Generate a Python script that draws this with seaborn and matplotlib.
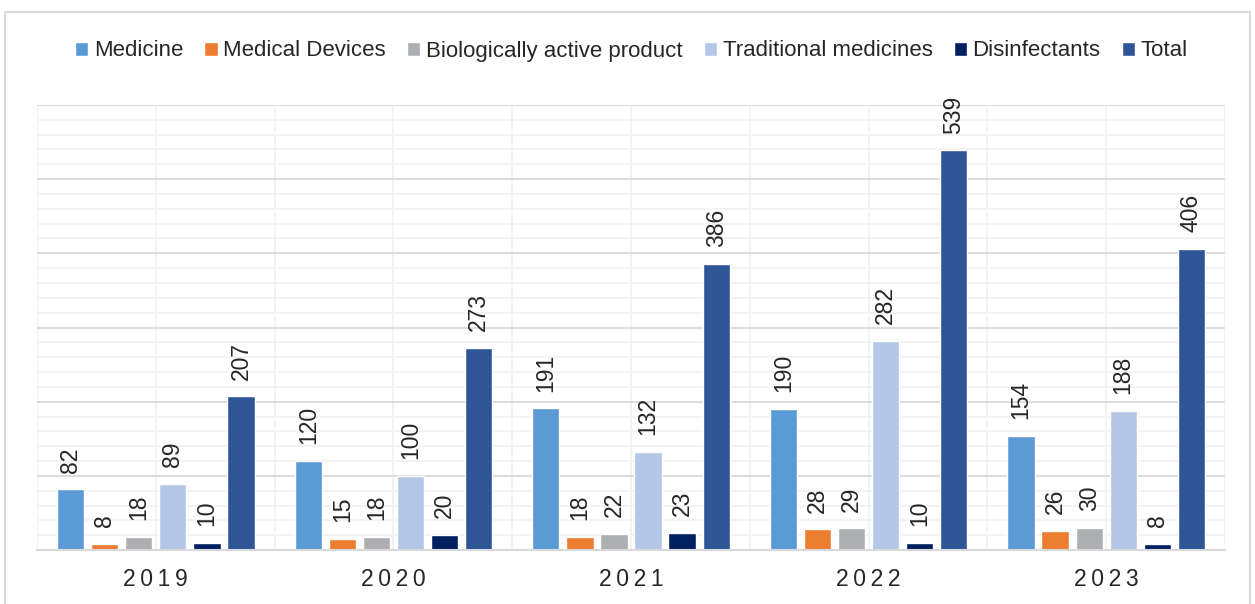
import matplotlib
matplotlib.use("Agg")
import matplotlib.pyplot as plt
import seaborn as sns
import pandas as pd
from matplotlib.patches import Rectangle
from matplotlib.ticker import MultipleLocator

years = ["2019", "2020", "2021", "2022", "2023"]
series_names = ["Medicine", "Medical Devices", "Biologically active product",
                "Traditional medicines", "Disinfectants", "Total"]
medicine = [82, 120, 191, 190, 154]
medical_devices = [8, 15, 18, 28, 26]
bio_active = [18, 18, 22, 29, 30]
traditional = [89, 100, 132, 282, 188]
disinfectants = [10, 20, 23, 10, 8]
total = [207, 273, 386, 539, 406]
colors = ["#5B9BD5", "#ED7D31", "#AEAFB2", "#B4C7E7", "#002060", "#2F5597"]

all_values = [medicine, medical_devices, bio_active, traditional, disinfectants, total]
rows = []
for name, vals in zip(series_names, all_values):
    for y, v in zip(years, vals):
        rows.append({"Year": y, "Series": name, "Value": v})
df = pd.DataFrame(rows)

sns.set_style("white")
plt.rcParams["font.family"] = ["Liberation Sans", "DejaVu Sans"]

fig = plt.figure(figsize=(12.55, 6.04), dpi=100)
ax = fig.add_axes([37 / 1255, 54 / 604, (1225 - 37) / 1255, (550 - 105) / 604])

sns.barplot(data=df, x="Year", y="Value", hue="Series", hue_order=series_names,
            order=years, palette=colors, width=0.86, gap=0.2, ax=ax,
            legend=True, saturation=1, errorbar=None)

for cont in ax.containers:
    ax.bar_label(cont, rotation=90, padding=12, fontsize=16.5, color="#262626")

ax.set_ylim(0, 600)
ax.set_xlim(-0.5, 4.5)
ax.yaxis.set_major_locator(MultipleLocator(100))
ax.yaxis.set_minor_locator(MultipleLocator(20))
ax.set_xticks(range(len(years)))
ax.set_xticks([i - 0.5 for i in range(len(years) + 1)], minor=True)
ax.set_xticklabels(["\u2009".join(list(y)) for y in years], fontsize=16.5, color="#262626")
ax.set_yticklabels([])
ax.tick_params(axis="both", which="both", length=0)
ax.tick_params(axis="x", pad=13)
ax.grid(True, which="minor", color="#F2F2F2", linewidth=1.3)
ax.grid(True, which="major", axis="x", color="#F2F2F2", linewidth=1.3)
ax.grid(True, which="major", axis="y", color="#D9D9D9", linewidth=1.3)
ax.set_axisbelow(True)
for s in ["top", "right", "left"]:
    ax.spines[s].set_visible(False)
ax.spines["bottom"].set_color("#D9D9D9")
ax.spines["bottom"].set_linewidth(1.5)
ax.set_xlabel("")
ax.set_ylabel("")

handles, labels = ax.get_legend_handles_labels()
ax.get_legend().remove()
fig.legend(handles, labels, loc="center", bbox_to_anchor=(0.503, 1 - 51 / 604),
           ncol=6, frameon=False, fontsize=16, handlelength=0.6, handleheight=0.6,
           handletextpad=0.25, columnspacing=0.95, labelcolor="#262626")

fig.patches.append(Rectangle((5 / 1255, -0.05), (1250 - 5) / 1255, 1.05 - 12 / 604,
                             transform=fig.transFigure, fill=False,
                             edgecolor="#D9D9D9", linewidth=1.5))

fig.savefig("out.png", dpi=100)
